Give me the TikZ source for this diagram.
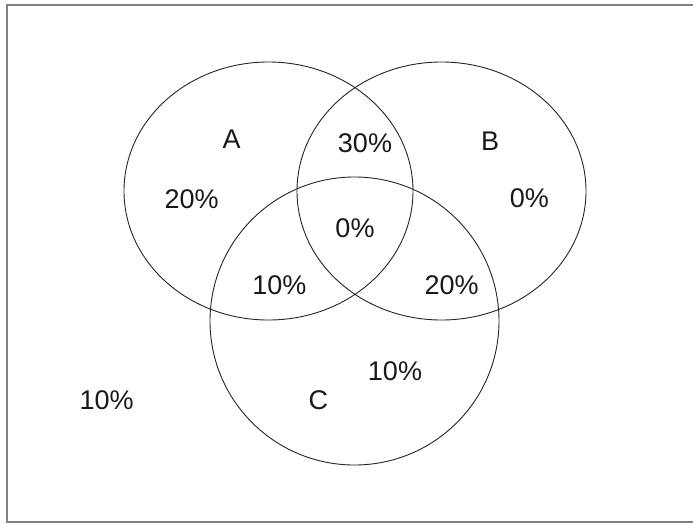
\documentclass[tikz,border=0pt]{standalone}
\usepackage{fontspec}
\setmainfont{Liberation Sans}
\begin{document}
\begin{tikzpicture}[x=1pt,y=-1pt,
  setline/.style={draw=black!85, line width=0.9pt},
  lbl/.style={font=\fontsize{27}{30}\selectfont, text=black!90, inner sep=0pt, anchor=center},
  frameline/.style={draw=black!50, line width=2pt}]
\useasboundingbox (0,0) rectangle (693,523);
\fill[white] (0,0) rectangle (693,523);
% frame
\draw[frameline] (693,4.5) -- (7,4.5) -- (7,521.5) -- (693,521.5);
% sets
\draw[setline] (268.5,191) ellipse [x radius=144.5, y radius=129];
\draw[setline] (441.5,191) ellipse [x radius=144.5, y radius=129];
\draw[setline] (354.5,321) ellipse [x radius=144.5, y radius=144];
% labels
\node[lbl] (la) at (231.7,139) {A};
\node[lbl] (lb) at (490,141) {B};
\node[lbl] (lc) at (318.3,400) {C};
\node[lbl] (aonly) at (191.7,199) {20\%};
\node[lbl] (ab) at (365,143) {30\%};
\node[lbl] (abc) at (355,228) {0\%};
\node[lbl] (ac) at (279.3,285) {10\%};
\node[lbl] (bonly) at (529.3,198.5) {0\%};
\node[lbl] (bc) at (451.7,285) {20\%};
\node[lbl] (conly) at (395,371) {10\%};
\node[lbl] (outside) at (106.7,400) {10\%};
\end{tikzpicture}
\end{document}
